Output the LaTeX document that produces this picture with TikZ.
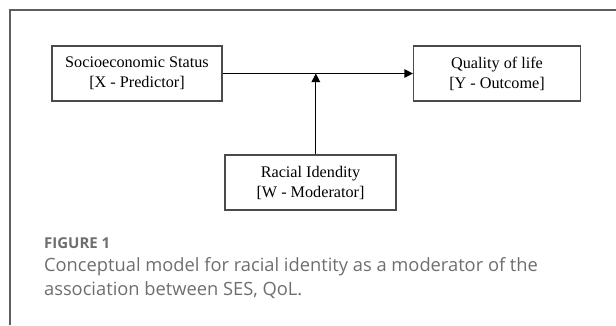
\documentclass[tikz,border=0pt]{standalone}
\usepackage{fontspec}
\setmainfont{Liberation Serif}
\newfontfamily\capfont{Open Sans}
\usepackage{tikz}
\usetikzlibrary{arrows.meta,calc,positioning}
\definecolor{framegray}{HTML}{5E5E5E}
\definecolor{boxgray}{HTML}{4B4B4B}
\definecolor{capgray}{HTML}{6E6E6E}

\begin{document}
\begin{tikzpicture}[x=1pt,y=-1pt,on grid,line width=1.2pt,
    >={Triangle[length=8.5pt,width=8.5pt]},
    blk/.style={draw=boxgray,line width=1.2pt,minimum width=170pt,minimum height=55pt,
      inner sep=0pt,align=center,font=\fontsize{16.2}{20}\selectfont},
    captext/.style={anchor=base west,inner sep=0pt,text=capgray,font=\capfont\fontsize{18.3}{23}\selectfont}]
      \useasboundingbox (0,0) rectangle (616,325);
      \draw[framegray] (10,325) -- (10,10) -- (616,10);

      \node[blk] (n_x) at (137,73.5) {Socioeconomic Status\\{}[X - Predictor]};
      \node[blk,minimum width=167pt] (n_y) [right= 360pt of n_x] {Quality of life\\{}[Y - Outcome]};
      \node[blk,minimum width=171pt] (n_w) [below right= 109pt and 173.5pt of n_x] {Racial Idendity\\{}[W - Moderator]};
      \coordinate (m) at ($(n_x.east)!0.49!(n_y.west)$);

      \path[->] (n_x) edge (n_y);
      \path[->] (n_w.north -| m) edge (m);

      % caption
      \node[captext,font=\capfont\bfseries\fontsize{15}{18}\selectfont] (fig) at (43.5,248.5) {FIGURE 1};
      \node[captext] (cap_1) at (43.5,271.5) {Conceptual model for racial identity as a moderator of the};
      \node[captext] (cap_2) at (43.5,295.8) {association between SES, QoL.};
\end{tikzpicture}
\end{document}
